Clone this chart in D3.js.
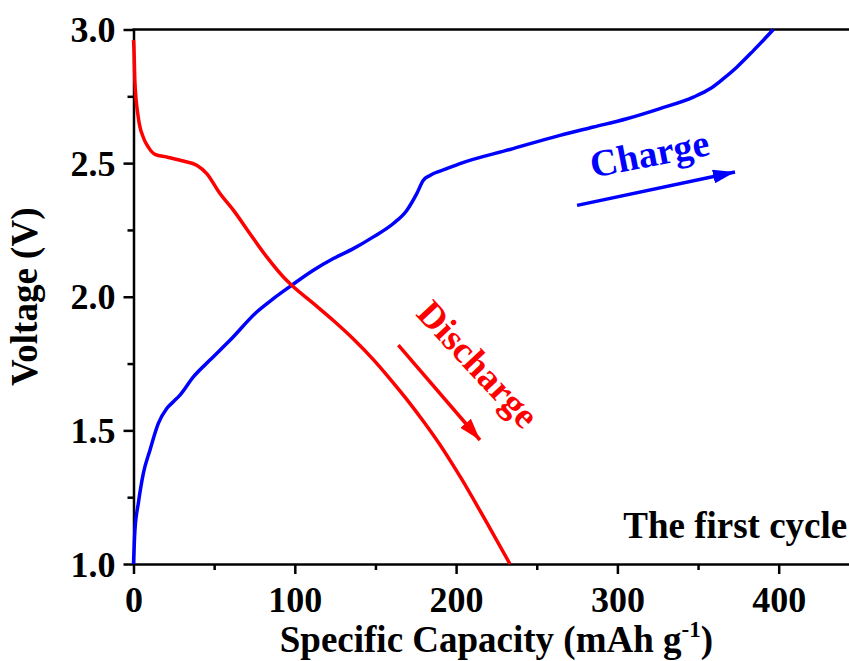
<!DOCTYPE html>
<html>
<head>
<meta charset="utf-8">
<script src="https://cdn.jsdelivr.net/npm/d3@7"></script>
<style>
  body { margin: 0; background: #fff; }
  svg { display: block; }
  text { font-family: "Liberation Serif", "Times New Roman", serif; font-weight: bold; }
</style>
</head>
<body>
<div id="chart"></div>
<script>
// first-cycle discharge (capacity mAh/g, voltage V)
const dischargeCap = [0, 0.2, 0.9, 3.0, 6.1, 9.2, 13.3, 20.6, 30.9, 39.2, 45.4, 53.6, 61.9, 72.2, 82.6, 92.9, 98.1, 111.5, 123.9, 136.3, 148.7, 159.0, 169.4, 179.7, 190.0, 198.3, 203.0, 218.5, 233.4];
const dischargeV   = [2.96, 2.94, 2.80, 2.67, 2.596, 2.56, 2.533, 2.523, 2.508, 2.492, 2.461, 2.386, 2.324, 2.236, 2.149, 2.074, 2.043, 1.975, 1.911, 1.842, 1.765, 1.693, 1.616, 1.534, 1.446, 1.368, 1.322, 1.160, 1.0];

// first-cycle charge
const chargeCap = [0, 0.9, 3.0, 6.1, 10.2, 15.4, 20.6, 24.7, 28.8, 37.1, 47.4, 59.8, 76.4, 86.7, 98.1, 111.5, 123.9, 136.3, 148.7, 161.1, 169.4, 175.6, 179.7, 183.8, 194.2, 202.4, 233.4, 264.4, 285.1, 305.8, 326.4, 347.1, 357.4, 365.7, 374.0, 384.3, 396.7];
const chargeV   = [1.0, 1.127, 1.227, 1.339, 1.426, 1.526, 1.582, 1.607, 1.632, 1.700, 1.763, 1.837, 1.943, 1.993, 2.043, 2.099, 2.143, 2.180, 2.224, 2.274, 2.323, 2.386, 2.436, 2.454, 2.479, 2.498, 2.551, 2.604, 2.635, 2.666, 2.704, 2.747, 2.778, 2.816, 2.859, 2.921, 3.0];

const xMajor = [0, 100, 200, 300, 400];
const xMinor = [50, 150, 250, 350];
const yMajor = [1.0, 1.5, 2.0, 2.5, 3.0];
const yMinor = [1.25, 1.75, 2.25, 2.75];

const W = 849, H = 661;
const mLeft = 133.5, mTop = 29.5, mBottom = 564;

const x = d3.scaleLinear().domain([0, 450]).range([mLeft, mLeft + 450 * 1.613]);
const y = d3.scaleLinear().domain([1, 3]).range([mBottom, mTop]);

const svg = d3.select("#chart").append("svg").attr("width", W).attr("height", H);

// arrow heads
const defs = svg.append("defs");
[["arrRed", "#ff0000"], ["arrBlue", "#0000ff"]].forEach(([id, c]) => {
  defs.append("marker").attr("id", id)
    .attr("markerUnits", "userSpaceOnUse")
    .attr("markerWidth", 24).attr("markerHeight", 14)
    .attr("refX", 22).attr("refY", 7).attr("orient", "auto")
    .append("path").attr("d", "M0,0L22,7L0,14Z").attr("fill", c);
});

// axes
const axStyle = g => {
  g.select(".domain").attr("stroke", "#000").attr("stroke-width", 2.5);
  g.selectAll(".tick line").attr("stroke", "#000").attr("stroke-width", 2.5);
};

svg.append("g").attr("transform", `translate(0,${mBottom})`)
  .call(d3.axisBottom(x).tickValues(xMinor).tickSize(6).tickFormat("").tickSizeOuter(0))
  .call(axStyle).select(".domain").remove();
svg.append("g").attr("transform", `translate(${mLeft},0)`)
  .call(d3.axisLeft(y).tickValues(yMinor).tickSize(6).tickFormat("").tickSizeOuter(0))
  .call(axStyle).select(".domain").remove();

const gx = svg.append("g").attr("transform", `translate(0,${mBottom})`)
  .call(d3.axisBottom(x).tickValues(xMajor).tickSize(10).tickSizeOuter(0).tickFormat(d3.format("d")))
  .call(axStyle);
gx.selectAll(".tick text").attr("y", 48).attr("dy", 0)
  .attr("font-size", 36).attr("font-family", "Liberation Serif").attr("fill", "#000");

const gy = svg.append("g").attr("transform", `translate(${mLeft},0)`)
  .call(d3.axisLeft(y).tickValues(yMajor).tickSize(10).tickSizeOuter(0).tickFormat(d3.format(".1f")))
  .call(axStyle);
gy.selectAll(".tick text").attr("x", -18).attr("dy", 12)
  .attr("font-size", 36).attr("font-family", "Liberation Serif").attr("fill", "#000");

// top frame
svg.append("line").attr("x1", mLeft - 1).attr("x2", W + 20)
  .attr("y1", y(3)).attr("y2", y(3)).attr("stroke", "#000").attr("stroke-width", 2.5);

// curves
const line = d3.line().x(d => x(d[0])).y(d => y(d[1])).curve(d3.curveMonotoneX);
svg.append("path").datum(d3.zip(chargeCap, chargeV))
  .attr("d", line).attr("fill", "none").attr("stroke", "#0000ff").attr("stroke-width", 3.5);
svg.append("path").datum(d3.zip(dischargeCap, dischargeV))
  .attr("d", line).attr("fill", "none").attr("stroke", "#ff0000").attr("stroke-width", 3.5);

// annotations
svg.append("line")
  .attr("x1", x(275)).attr("y1", y(2.342)).attr("x2", x(372.9)).attr("y2", y(2.467))
  .attr("stroke", "#0000ff").attr("stroke-width", 3.5).attr("marker-end", "url(#arrBlue)");
svg.append("line")
  .attr("x1", x(164.2)).attr("y1", y(1.819)).attr("x2", x(214.8)).attr("y2", y(1.464))
  .attr("stroke", "#ff0000").attr("stroke-width", 3.5).attr("marker-end", "url(#arrRed)");

svg.append("text")
  .attr("transform", `translate(${x(321.4)},${y(2.488)}) rotate(-11)`)
  .attr("text-anchor", "middle").attr("font-size", 38).attr("fill", "#0000ff")
  .text("Charge");
svg.append("text")
  .attr("transform", `translate(${x(208)},${y(1.716)}) rotate(47)`)
  .attr("text-anchor", "middle").attr("font-size", 37).attr("fill", "#ff0000")
  .text("Discharge");
svg.append("text")
  .attr("x", x(442.5)).attr("y", y(1.097))
  .attr("text-anchor", "end").attr("font-size", 37).attr("fill", "#000")
  .text("The first cycle");

// axis titles
const xt = svg.append("text")
  .attr("x", (x(0) + x(450)) / 2).attr("y", 652)
  .attr("text-anchor", "middle").attr("font-size", 37).attr("fill", "#000");
xt.append("tspan").text("Specific Capacity (mAh g");
xt.append("tspan").attr("dy", -15).attr("font-size", 23).text("-1");
xt.append("tspan").attr("dy", 15).text(")");

svg.append("text")
  .attr("transform", `translate(37,${(y(1) + y(3)) / 2}) rotate(-90)`)
  .attr("text-anchor", "middle").attr("font-size", 37).attr("fill", "#000")
  .text("Voltage (V)");
</script>
</body>
</html>
